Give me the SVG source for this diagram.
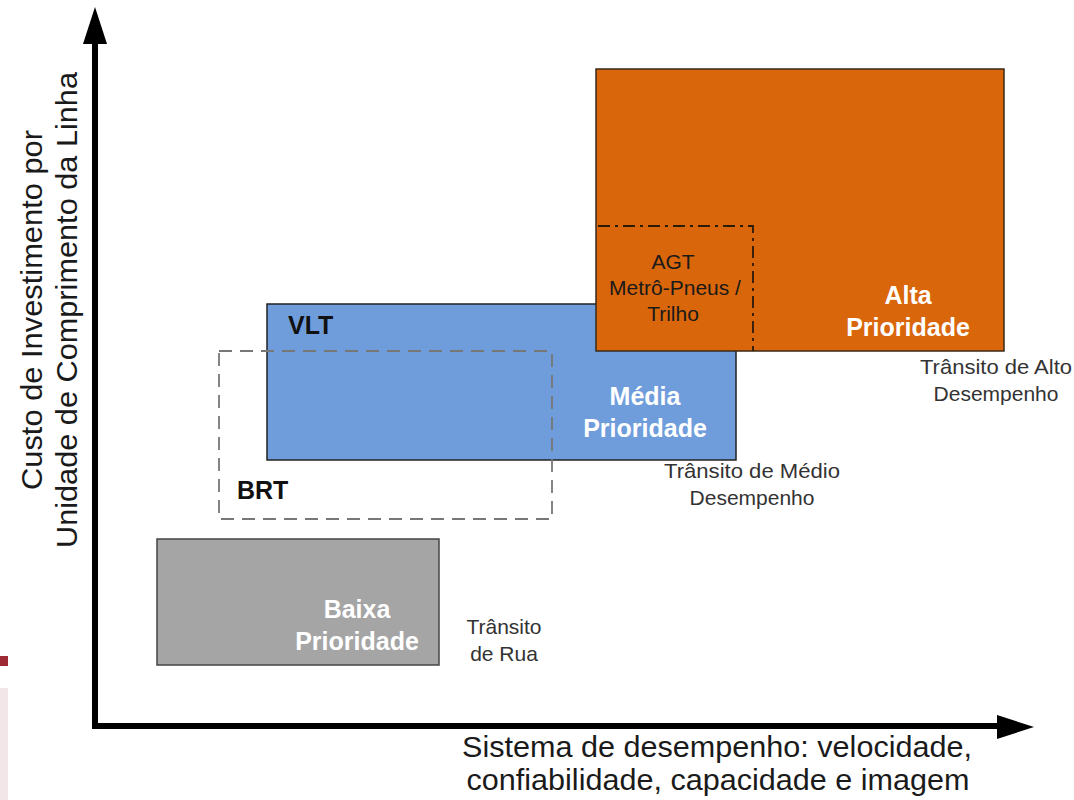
<svg xmlns="http://www.w3.org/2000/svg" width="1074" height="800" viewBox="0 0 1074 800">
  <style>
    .box { stroke-width: 1.5; }
    .white { font-family: "Liberation Sans", Arial, sans-serif; font-weight: bold; font-size: 25px; fill: #ffffff; text-anchor: middle; }
    .tag { font-family: "Liberation Sans", Arial, sans-serif; font-weight: bold; font-size: 25px; fill: #111111; }
    .note { font-family: "Liberation Sans", Arial, sans-serif; font-size: 21px; fill: #333333; text-anchor: middle; }
    .agt { font-family: "Liberation Sans", Arial, sans-serif; font-size: 21px; fill: #1a1a1a; text-anchor: middle; }
    .axis { font-family: "Liberation Sans", Arial, sans-serif; font-size: 29px; fill: #1a1a1a; text-anchor: middle; }
  </style>
  <rect width="1074" height="800" fill="#ffffff"/>
  <rect x="0" y="656" width="8" height="10" fill="#9E2A36"/>
  <rect x="0" y="688" width="8" height="112" fill="#F2E6E8"/>

  <g id="connectors">
    <polyline points="95,42 95,726 999,726" fill="none" stroke="#000" stroke-width="6" stroke-linejoin="miter"/>
    <polygon points="95,7 83,44 107,44" fill="#000"/>
    <polygon points="1034,727 997,715 997,739" fill="#000"/>
  </g>

  <g id="baixa">
    <rect class="box" x="157" y="539" width="282" height="126" fill="#A5A5A5" stroke="#444"/>
    <text class="white" x="357" y="618">Baixa</text>
    <text class="white" x="357" y="650">Prioridade</text>
  </g>
  <g id="rua">
    <text class="note" x="504" y="634">Trânsito</text>
    <text class="note" x="504" y="661">de Rua</text>
  </g>

  <g id="media">
    <rect class="box" x="267" y="304" width="469" height="156" fill="#6F9DDB" stroke="#222"/>
    <text class="tag" x="288" y="334">VLT</text>
    <text class="white" x="645" y="405">Média</text>
    <text class="white" x="645" y="437">Prioridade</text>
  </g>

  <g id="brt">
    <rect x="219" y="351" width="333" height="168" fill="none" stroke="#777" stroke-width="1.8" stroke-dasharray="13,8"/>
    <text class="tag" x="237" y="499">BRT</text>
  </g>

  <g id="medio">
    <text class="note" x="752" y="478" textLength="176" lengthAdjust="spacingAndGlyphs">Trânsito de Médio</text>
    <text class="note" x="752" y="505">Desempenho</text>
  </g>

  <g id="alta">
    <rect class="box" x="596" y="69" width="408" height="282" fill="#D9660B" stroke="#3a2a1a"/>
    <text class="white" x="908" y="304">Alta</text>
    <text class="white" x="908" y="336">Prioridade</text>
  </g>

  <g id="agt">
    <path d="M598,226 H753 V351" fill="none" stroke="#2a1a0a" stroke-width="1.8" stroke-dasharray="12,5,3,5"/>
    <text class="agt" x="673" y="269">AGT</text>
    <text class="agt" x="675" y="295">Metrô-Pneus /</text>
    <text class="agt" x="673" y="321">Trilho</text>
  </g>

  <g id="alto">
    <text class="note" x="996" y="374" textLength="152" lengthAdjust="spacingAndGlyphs">Trânsito de Alto</text>
    <text class="note" x="996" y="401">Desempenho</text>
  </g>

  <g id="x-label">
    <text class="axis" x="717" y="757" textLength="510" lengthAdjust="spacingAndGlyphs">Sistema de desempenho: velocidade,</text>
    <text class="axis" x="718" y="790" textLength="503" lengthAdjust="spacingAndGlyphs">confiabilidade, capacidade e imagem</text>
  </g>

  <g id="y-label">
    <text class="axis" transform="translate(42,310) rotate(-90)" x="0" y="0" textLength="360" lengthAdjust="spacingAndGlyphs">Custo de Investimento por</text>
    <text class="axis" transform="translate(77,310) rotate(-90)" x="0" y="0" textLength="476" lengthAdjust="spacingAndGlyphs">Unidade de Comprimento da Linha</text>
  </g>
</svg>
